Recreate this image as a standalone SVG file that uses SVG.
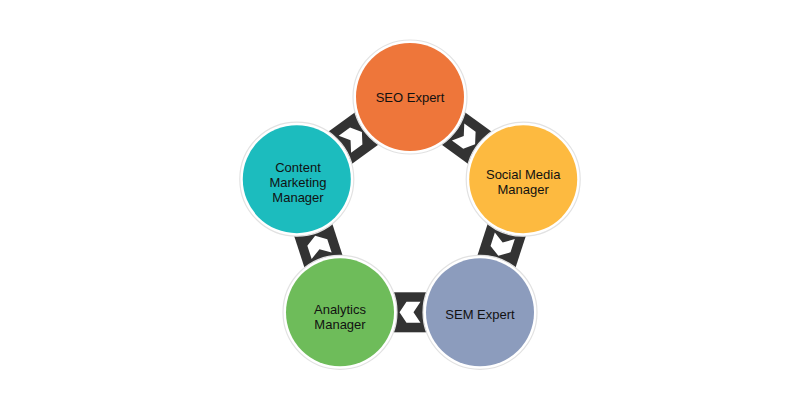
<svg xmlns="http://www.w3.org/2000/svg" width="800" height="400" viewBox="0 0 800 400">
<defs>
<style>
.ring{fill:#ffffff;stroke:#e2e2e2;stroke-width:1.2}
.lbl{font-family:"Liberation Sans",Arial,sans-serif;font-size:13px;fill:#111111;text-anchor:middle;dominant-baseline:central}
.box{fill:#333333}
.chev{fill:#ffffff}
</style>
<g id="conn-shape">
<rect class="box" x="-20" y="-20" width="40" height="40"/>
<polygon class="chev" points="-10.5,-10.5 3.5,-10.5 10.5,0 3.5,10.5 -10.5,10.5 -3.5,0"/>
</g>
</defs>
<rect width="800" height="400" fill="#ffffff"/>
<g id="connectors">
<use href="#conn-shape" transform="translate(466.6,138.1) rotate(36)"/>
<use href="#conn-shape" transform="translate(501.6,245.8) rotate(108)"/>
<use href="#conn-shape" transform="translate(410,312.3) rotate(180)"/>
<use href="#conn-shape" transform="translate(318.4,245.8) rotate(252)"/>
<use href="#conn-shape" transform="translate(353.4,138.1) rotate(324)"/>
</g>
<g id="seo-expert">
<circle class="ring" cx="410" cy="97" r="57"/>
<circle cx="410" cy="97" r="54" fill="#EE763A"/>
<text class="lbl" x="410" y="97">SEO Expert</text>
</g>
<g id="social-media-manager">
<circle class="ring" cx="523.2" cy="179.2" r="57"/>
<circle cx="523.2" cy="179.2" r="54" fill="#FDBA40"/>
<text class="lbl" x="523.2" y="181"><tspan x="523.2" dy="-7.5">Social Media</tspan><tspan x="523.2" dy="15">Manager</tspan></text>
</g>
<g id="sem-expert">
<circle class="ring" cx="480" cy="312.3" r="57"/>
<circle cx="480" cy="312.3" r="54" fill="#8C9CBD"/>
<text class="lbl" x="480" y="314">SEM Expert</text>
</g>
<g id="analytics-manager">
<circle class="ring" cx="340" cy="312.3" r="57"/>
<circle cx="340" cy="312.3" r="54" fill="#6EBC5A"/>
<text class="lbl" x="340" y="316"><tspan x="340" dy="-7.5">Analytics</tspan><tspan x="340" dy="15">Manager</tspan></text>
</g>
<g id="content-marketing-manager">
<circle class="ring" cx="296.8" cy="179.2" r="57"/>
<circle cx="296.8" cy="179.2" r="54" fill="#1CBCBE"/>
<text class="lbl" x="298" y="182"><tspan x="298" dy="-15">Content</tspan><tspan x="298" dy="15">Marketing</tspan><tspan x="298" dy="15">Manager</tspan></text>
</g>
</svg>
